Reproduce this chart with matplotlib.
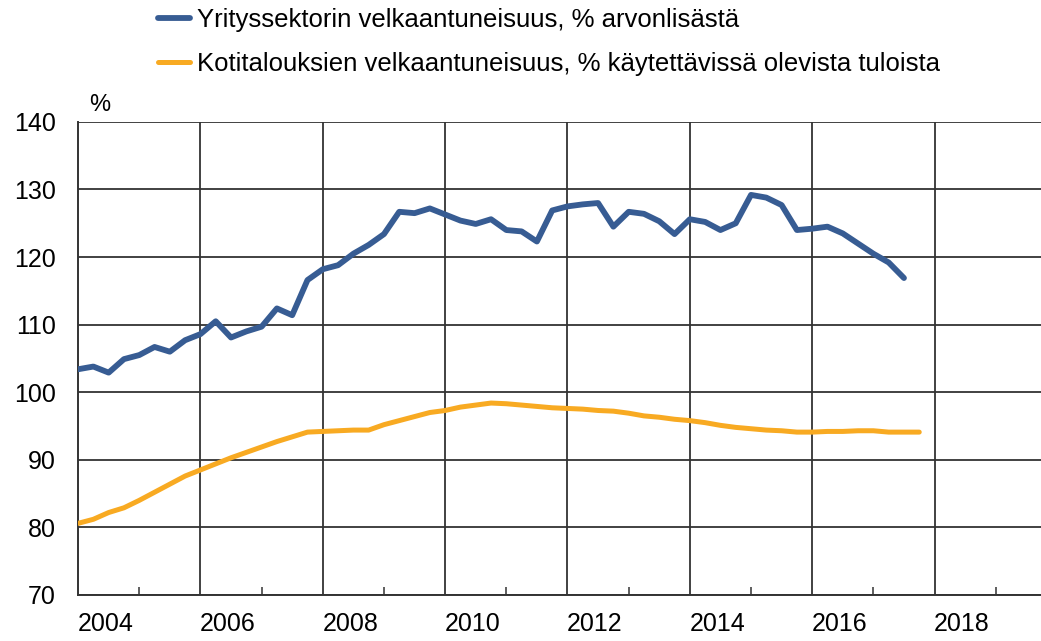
import numpy as np
import matplotlib
matplotlib.use("Agg")
import matplotlib.pyplot as plt
from matplotlib.ticker import FixedLocator, NullFormatter

# quarterly data, 2004Q1 onwards
start_year = 2004
yritys = [103.4, 103.8, 102.9, 104.9, 105.5, 106.7, 106.0, 107.7,
          108.6, 110.5, 108.1, 109.0, 109.7, 112.4, 111.4, 116.6,
          118.2, 118.8, 120.5, 121.8, 123.4, 126.7, 126.5, 127.2,
          126.3, 125.4, 124.9, 125.6, 124.0, 123.8, 122.3, 126.9,
          127.5, 127.8, 128.0, 124.5, 126.7, 126.4, 125.3, 123.4,
          125.6, 125.2, 124.0, 125.0, 129.2, 128.8, 127.7, 124.0,
          124.2, 124.5, 123.5, 122.0, 120.5, 119.2, 116.9]
kotitaloudet = [80.6, 81.2, 82.2, 82.9, 84.0, 85.2, 86.4, 87.6,
                88.5, 89.4, 90.3, 91.1, 91.9, 92.7, 93.4, 94.1,
                94.2, 94.3, 94.4, 94.4, 95.2, 95.8, 96.4, 97.0,
                97.3, 97.8, 98.1, 98.4, 98.3, 98.1, 97.9, 97.7,
                97.6, 97.5, 97.3, 97.2, 96.9, 96.5, 96.3, 96.0,
                95.8, 95.5, 95.1, 94.8, 94.6, 94.4, 94.3, 94.1,
                94.1, 94.2, 94.2, 94.3, 94.3, 94.1, 94.1, 94.1]
labels = ["Yrityssektorin velkaantuneisuus, % arvonlisästä",
          "Kotitalouksien velkaantuneisuus, % käytettävissä olevista tuloista"]
year_labels = ["2004", "2006", "2008", "2010", "2012", "2014", "2016", "2018"]
y_ticks = [70, 80, 90, 100, 110, 120, 130, 140]

t1 = start_year + np.arange(len(yritys)) / 4
t2 = start_year + np.arange(len(kotitaloudet)) / 4

plt.rcParams['font.family'] = ['Liberation Sans', 'DejaVu Sans']

fig = plt.figure(figsize=(10.41, 6.41), dpi=100)
ax = fig.add_axes([0.075, 0.0718, 0.925, 0.738])

grid_c = "#333333"
l1, = ax.plot(t1, yritys, color="#375C93", lw=4.2, solid_capstyle="round", zorder=3)
l2, = ax.plot(t2, kotitaloudet, color="#F8AA22", lw=3.6, solid_capstyle="round", zorder=3)

ax.set_xlim(2004, 2019.74)
ax.set_ylim(70, 140)
ax.set_yticks(y_ticks)
ax.tick_params(axis="y", length=0, labelsize=18, pad=16)

# major gridlines at even years, labels centred in the first half of each 2-year block
ax.xaxis.set_major_locator(FixedLocator(np.arange(2006, 2020, 2)))
ax.xaxis.set_major_formatter(NullFormatter())
ax.xaxis.set_minor_locator(FixedLocator(np.arange(2005, 2020, 2)))
ax.tick_params(axis="x", which="major", length=0)
ax.tick_params(axis="x", which="minor", direction="in", length=6, width=1.1, color=grid_c)
for lab in year_labels:
    ax.text(int(lab) + 0.45, -0.037, lab, transform=ax.get_xaxis_transform(),
            ha="center", va="top", fontsize=18)

ax.grid(True, which="major", color=grid_c, lw=1.3)
for s in ["top", "right"]:
    ax.spines[s].set_visible(False)
for s in ["left", "bottom"]:
    ax.spines[s].set_color(grid_c)
    ax.spines[s].set_linewidth(1.4)

fig.text(100 / 1041, 1 - 105 / 641, "%", fontsize=17, ha="center", va="center")

fig.legend([l1, l2], labels, loc="upper left", bbox_to_anchor=(153 / 1041, 0.995),
           frameon=False, fontsize=18.5, handlelength=1.25, handletextpad=0.27,
           labelspacing=0.76, borderaxespad=0, borderpad=0.2)

fig.savefig("out.png", dpi=100)
